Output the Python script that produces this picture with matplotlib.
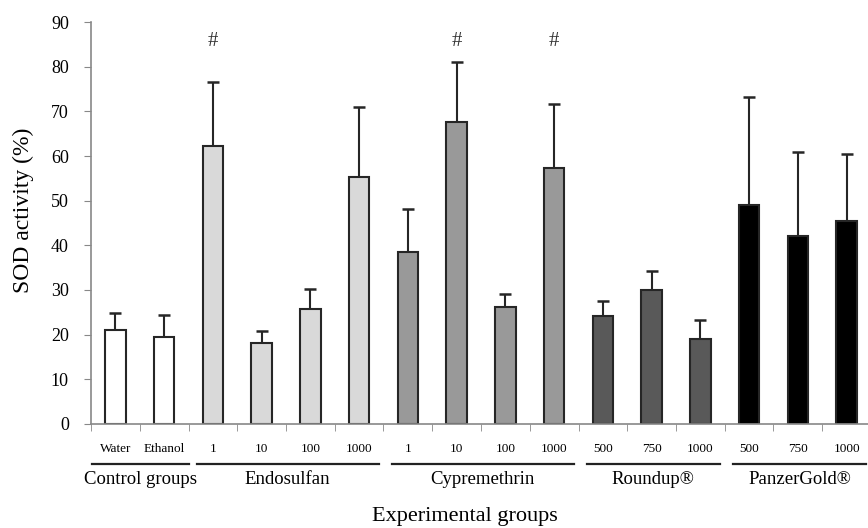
import matplotlib
matplotlib.use("Agg")
import matplotlib.pyplot as plt
import matplotlib.transforms as mtransforms
import numpy as np

plt.rcParams["font.family"] = ["Liberation Serif", "DejaVu Serif"]

# 막대 라벨 / 값 / 오차
doses = ["Water", "Ethanol", "1", "10", "100", "1000", "1", "10", "100", "1000",
         "500", "750", "1000", "500", "750", "1000"]
sod = [21.1, 19.5, 62.2, 18.2, 25.8, 55.4, 38.6, 67.6, 26.2, 57.4,
       24.1, 30.1, 19.0, 49.0, 42.0, 45.5]
sod_err = [3.7, 4.8, 14.4, 2.6, 4.5, 15.6, 9.5, 13.4, 2.8, 14.2,
           3.4, 4.1, 4.2, 24.2, 19.0, 15.0]

groups = ["Control groups", "Endosulfan", "Cypremethrin", "Roundup®", "PanzerGold®"]
group_sizes = [2, 4, 4, 3, 3]
group_colors = ["#ffffff", "#d9d9d9", "#999999", "#595959", "#000000"]

sig_marks = [2, 7, 9]   # '#' 표시 위치
sig_y = 85.7

fig = plt.figure(figsize=(8.68, 5.28), dpi=100)
ax = fig.add_axes([91 / 868, 104 / 528, 780 / 868, 402 / 528])

colors = []
for c, n in zip(group_colors, group_sizes):
    colors += [c] * n

x = np.arange(len(doses))
ax.bar(x, sod, width=0.42, color=colors, edgecolor="#262626", linewidth=1.5, zorder=2)
ax.errorbar(x, sod, yerr=[np.zeros(len(sod)), sod_err], fmt="none",
            ecolor="#262626", elinewidth=1.5, capsize=4.5, capthick=1.8, zorder=1)

for i in sig_marks:
    ax.text(i, sig_y, "#", ha="center", va="center", fontsize=15, color="#333333")

ax.set_xlim(-0.5, len(doses) - 0.5)
ax.set_ylim(0, 90)
ax.set_yticks(range(0, 91, 10))

ax.set_xticks(x)
ax.set_xticklabels(doses, fontsize=9.5)
ax.set_xticks(np.arange(-0.5, len(doses), 1.0), minor=True)
ax.tick_params(axis="x", which="major", length=0, pad=14)
ax.tick_params(axis="x", which="minor", length=5, color="#888888", direction="out")
ax.tick_params(axis="y", length=5, color="#888888", labelsize=13, pad=11)

for s in ["top", "right"]:
    ax.spines[s].set_visible(False)
for s in ["left", "bottom"]:
    ax.spines[s].set_color("#888888")
    ax.spines[s].set_linewidth(1.2)

# 그룹 밑줄과 그룹 이름
trans = mtransforms.blended_transform_factory(ax.transData, ax.transAxes)
start = 0
for name, n in zip(groups, group_sizes):
    if start == 0:
        x0, x1 = -0.48, 1.52
    else:
        x0 = start - 0.5 + 0.17
        x1 = start + n - 0.5 - 0.1
    ax.plot([x0, x1], [-0.1, -0.1], color="#222222", linewidth=1.6,
            transform=trans, clip_on=False)
    ax.text((x0 + x1) / 2, -0.137, name, ha="center", va="center",
            fontsize=13.5, transform=trans)
    start += n

ax.set_ylabel("SOD activity (%)", fontsize=17)
ax.yaxis.set_label_coords(-0.073, 0.532)
fig.text(465 / 868, 11 / 528, "Experimental groups", ha="center",
         va="center", fontsize=16)

fig.savefig("out.png", dpi=100)
